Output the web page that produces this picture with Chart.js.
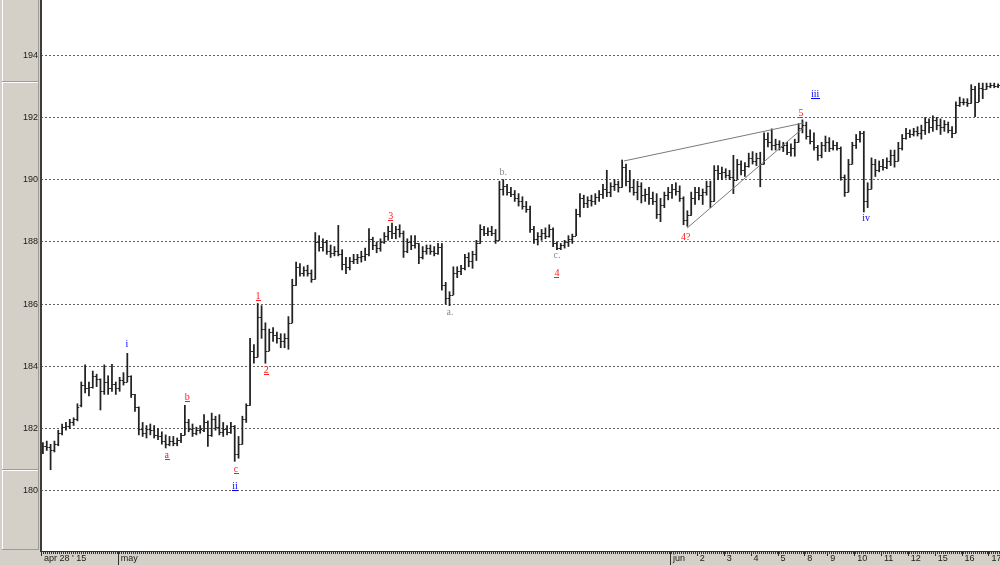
<!DOCTYPE html>
<html>
<head>
<meta charset="utf-8">
<script src="https://cdn.jsdelivr.net/npm/chart.js@4.4.0/dist/chart.umd.min.js"></script>
<style>
  html, body { margin: 0; padding: 0; background: #d4d0c8; }
  canvas { display: block; }
</style>
</head>
<body>
<canvas id="myChart" width="1000" height="565"></canvas>
<script>
// hourly OHLC bars
const opens = [
  181.3,181.45,181.4,181.3,181.5,181.85,182.05,182.1,182.2,182.3,
  182.75,183.4,183.3,183.35,183.7,183.6,183.2,183.5,183.3,183.45,
  183.3,183.55,183.5,183.7,183.1,182.7,182.0,181.85,182.0,181.95,
  181.8,181.75,181.6,181.5,181.6,181.55,181.65,181.8,182.2,182.0,
  181.85,181.95,181.95,182.2,181.8,182.3,182.05,181.9,182.0,181.9,
  182.1,181.2,181.5,182.3,182.75,184.5,184.3,185.6,185.2,184.5,
  185.1,185.0,184.9,184.8,184.9,185.4,186.6,187.2,187.0,187.1,
  187.0,186.8,188.0,187.85,188.0,187.7,187.65,187.7,187.6,187.3,
  187.2,187.4,187.45,187.5,187.55,187.6,188.1,187.9,187.8,188.0,
  188.2,188.35,188.3,188.4,188.3,187.7,188.0,187.9,187.95,187.5,
  187.7,187.8,187.7,187.65,187.85,186.6,186.2,186.3,187.0,187.05,
  187.15,187.5,187.4,187.6,187.95,188.4,188.3,188.35,188.3,188.05,
  189.7,189.8,189.6,189.55,189.4,189.3,189.15,189.05,188.4,188.1,
  188.2,188.3,188.2,188.4,187.95,187.8,187.9,188.0,188.1,188.2,
  188.9,189.4,189.25,189.35,189.3,189.45,189.55,189.7,189.6,189.8,
  189.85,189.75,190.4,189.95,189.75,189.6,189.8,189.5,189.55,189.4,
  189.3,188.9,189.2,189.5,189.6,189.7,189.65,189.4,188.7,188.85,
  189.4,189.6,189.5,189.6,189.8,189.3,190.3,190.2,190.25,190.15,
  190.1,190.0,190.5,190.3,190.45,190.7,190.6,190.7,190.5,191.3,
  191.2,191.1,191.15,191.05,191.1,190.9,191.0,191.2,191.65,191.75,
  191.4,191.25,191.05,190.8,191.1,191.2,191.0,191.1,191.0,190.1,
  189.6,190.5,191.1,191.3,191.5,189.3,189.7,190.5,190.3,190.45,
  190.4,190.6,190.8,190.6,191.0,191.35,191.5,191.45,191.55,191.5,
  191.6,191.85,191.7,191.9,191.75,191.7,191.8,191.6,191.5,192.4,
  192.5,192.5,192.45,192.9,192.5,192.95,192.9,193.0,193.05,193.0
];
const highs = [
  181.55,181.6,181.5,181.6,181.95,182.15,182.2,182.3,182.35,182.8,
  183.5,184.05,183.5,183.85,183.75,183.6,184.05,183.7,184.07,183.5,
  183.65,183.8,184.42,183.7,183.1,182.7,182.2,182.1,182.15,182.1,
  182.0,181.9,181.8,181.75,181.75,181.7,181.85,182.75,182.3,182.15,
  182.05,182.1,182.45,182.25,182.5,182.4,182.45,182.2,182.1,182.2,
  182.1,181.75,182.4,182.8,184.9,184.7,186.02,185.95,185.4,185.2,
  185.25,185.1,185.05,185.05,185.6,186.8,187.35,187.3,187.2,187.25,
  187.1,188.3,188.2,188.1,188.05,187.9,187.85,188.53,187.75,187.5,
  187.5,187.6,187.6,187.7,187.8,188.43,188.15,188.0,188.1,188.3,
  188.5,188.6,188.5,188.55,188.35,188.1,188.2,188.2,187.95,187.85,
  187.9,187.9,187.85,187.95,187.95,186.7,186.4,187.2,187.2,187.25,
  187.6,187.65,187.7,188.05,188.55,188.5,188.45,188.5,188.4,189.95,
  190.0,189.85,189.75,189.65,189.55,189.45,189.3,189.15,188.5,188.3,
  188.4,188.45,188.55,188.45,188.0,187.95,188.05,188.2,188.25,189.05,
  189.55,189.5,189.45,189.5,189.55,189.65,189.85,190.3,189.9,190.0,
  189.95,190.63,190.5,190.3,190.0,189.95,189.9,189.7,189.75,189.6,
  189.55,189.4,189.6,189.75,189.85,189.9,189.8,189.45,189.0,189.6,
  189.75,189.75,189.7,189.95,189.95,190.45,190.45,190.4,190.35,190.3,
  190.78,190.65,190.6,190.55,190.85,190.9,190.85,190.88,191.5,191.5,
  191.63,191.3,191.25,191.2,191.2,191.15,191.3,191.8,191.92,191.85,
  191.6,191.5,191.1,191.2,191.4,191.35,191.25,191.2,191.05,190.15,
  190.65,191.2,191.45,191.55,191.55,189.9,190.7,190.65,190.6,190.65,
  190.7,190.95,190.95,191.2,191.45,191.65,191.6,191.65,191.7,191.75,
  192.0,191.95,192.05,192.0,191.95,191.9,191.85,191.7,192.5,192.65,
  192.6,192.6,193.05,193.0,193.1,193.1,193.1,193.1,193.1,193.08
];
const lows = [
  181.2,181.3,180.68,181.25,181.45,181.8,181.95,182.0,182.1,182.25,
  182.7,183.15,183.05,183.3,183.35,182.6,183.1,183.1,183.2,183.1,
  183.2,183.4,183.5,183.0,182.55,181.8,181.75,181.7,181.8,181.7,
  181.65,181.5,181.38,181.45,181.45,181.45,181.55,181.8,181.9,181.75,
  181.8,181.85,181.9,181.43,181.75,181.95,181.8,181.75,181.8,181.85,
  180.95,181.05,181.5,182.2,182.75,184.1,184.3,184.9,184.1,184.5,
  184.8,184.75,184.6,184.6,184.55,185.4,186.6,186.9,186.9,186.9,
  186.7,186.8,187.7,187.7,187.6,187.5,187.55,187.55,187.1,186.98,
  187.1,187.3,187.3,187.35,187.4,187.55,187.75,187.65,187.7,187.95,
  188.05,188.1,188.1,188.15,187.5,187.65,187.75,187.8,187.3,187.45,
  187.6,187.6,187.55,187.6,186.45,186.0,185.95,186.3,186.85,186.95,
  187.1,187.2,187.15,187.4,187.95,188.2,188.2,188.2,187.95,188.05,
  189.5,189.5,189.45,189.3,189.15,189.05,188.95,188.3,187.95,187.9,
  188.05,188.1,188.15,187.85,187.75,187.75,187.8,187.85,187.95,188.2,
  188.8,189.1,189.1,189.15,189.2,189.3,189.4,189.45,189.45,189.65,
  189.6,189.75,189.8,189.6,189.5,189.35,189.25,189.3,189.2,189.2,
  188.75,188.65,189.1,189.35,189.4,189.5,189.3,188.55,188.5,188.85,
  189.2,189.35,189.2,189.5,189.1,189.3,190.0,190.0,190.05,190.0,
  189.55,190.0,190.15,190.1,190.4,190.5,190.45,189.77,190.5,191.05,
  190.95,190.95,190.95,190.9,190.8,190.75,190.75,191.2,191.5,191.3,
  191.15,190.95,190.62,190.7,190.9,190.9,190.95,190.95,189.98,189.46,
  189.6,190.5,191.0,191.2,188.96,189.1,189.7,190.1,190.25,190.3,
  190.35,190.45,190.4,190.6,190.95,191.3,191.35,191.4,191.4,191.3,
  191.45,191.5,191.55,191.6,191.45,191.55,191.5,191.35,191.5,192.35,
  192.4,192.35,192.45,192.02,192.5,192.6,192.9,192.95,192.95,192.95
];
const closes = [
  181.45,181.4,181.3,181.5,181.85,182.05,182.1,182.2,182.3,182.7,
  183.4,183.3,183.35,183.7,183.6,183.2,183.5,183.3,183.45,183.3,
  183.55,183.5,183.7,183.1,182.7,182.0,181.85,182.0,181.95,181.8,
  181.75,181.6,181.5,181.6,181.55,181.65,181.8,182.2,182.0,181.85,
  181.95,182.0,182.2,181.8,182.3,182.05,181.9,182.0,181.9,182.1,
  181.2,181.5,182.3,182.75,184.5,184.3,185.6,185.2,184.5,185.1,
  185.0,184.9,184.8,184.9,185.4,186.6,187.2,187.0,187.1,187.0,
  186.8,188.0,187.85,188.0,187.7,187.65,187.7,187.6,187.3,187.2,
  187.4,187.45,187.5,187.55,187.6,188.1,187.9,187.8,188.0,188.2,
  188.35,188.3,188.4,188.3,187.7,188.0,187.9,187.95,187.5,187.7,
  187.8,187.7,187.65,187.85,186.6,186.2,186.3,187.0,187.05,187.15,
  187.5,187.4,187.6,187.95,188.4,188.3,188.35,188.3,188.05,189.7,
  189.8,189.6,189.55,189.4,189.3,189.15,189.05,188.4,188.1,188.2,
  188.3,188.2,188.4,187.95,187.8,187.9,188.0,188.1,188.2,188.9,
  189.4,189.25,189.35,189.3,189.45,189.55,189.7,189.6,189.8,189.85,
  189.75,190.4,189.95,189.75,189.6,189.8,189.5,189.55,189.4,189.3,
  188.9,189.2,189.5,189.6,189.7,189.65,189.4,188.7,188.85,189.4,
  189.6,189.5,189.6,189.8,189.3,190.3,190.2,190.25,190.15,190.1,
  190.0,190.5,190.3,190.45,190.7,190.6,190.7,190.5,191.3,191.2,
  191.1,191.15,191.05,191.1,190.9,191.0,191.2,191.65,191.75,191.4,
  191.25,191.05,190.8,191.1,191.2,191.0,191.1,191.0,190.1,189.6,
  190.5,191.1,191.3,191.5,189.3,189.7,190.5,190.3,190.45,190.4,
  190.6,190.8,190.6,191.0,191.35,191.5,191.45,191.55,191.5,191.6,
  191.85,191.7,191.9,191.75,191.7,191.8,191.6,191.5,192.4,192.5,
  192.5,192.45,192.9,192.5,192.95,192.9,193.0,193.05,193.0,193.05
];

// x axis: bar index where each day starts
const dayStarts = [0, 20, 164, 171, 178, 185, 192, 199, 205, 212, 219, 226, 233, 240, 247];
const dayLabels = ["apr 28 ' 15", "may", "jun", "2", "3", "4", "5", "8", "9", "10", "11", "12", "15", "16", "17"];
const monthStarts = [20, 164];

// wave labels: text, bar index, price
const noteText  = ["i", "a", "b", "c", "ii", "1", "2", "3", "a.", "b.", "c.", "4", "4?", "5", "iii", "iv"];
const noteBar   = [21.9, 32.3, 37.6, 50.3, 50.1, 56.1, 58.2, 90.7, 106.1, 120.0, 134.0, 134.0, 167.6, 197.6, 201.3, 214.6];
const notePrice = [184.72, 181.15, 183.02, 180.7, 180.16, 186.26, 183.88, 188.83, 185.75, 190.24, 187.58, 187.0, 188.15, 192.14, 192.75, 188.77];
const noteColor = ["#0000ff", "#ff1a1a", "#ff1a1a", "#ff1a1a", "#0000ff", "#ff1a1a", "#ff1a1a", "#ff1a1a", "#8c8c8c", "#8c8c8c", "#8c8c8c", "#ff1a1a", "#ff1a1a", "#ff1a1a", "#0000ff", "#0000ff"];
const noteUnder = [false, true, true, true, true, true, true, true, false, false, false, true, false, true, true, false];

// wedge lines
const lineFromBar = [151.5, 167.9];
const lineFromPrice = [190.6, 188.44];
const lineToBar = [198.3, 198.1];
const lineToPrice = [191.82, 191.65];

const barColor = '#222222';

const labels = opens.map(() => '');
dayStarts.forEach((idx, k) => { labels[idx] = dayLabels[k]; });

const frame = {
  id: 'frame',
  beforeDraw(chart) {
    const { ctx, chartArea: a, width, height } = chart;
    ctx.save();
    ctx.fillStyle = '#d4d0c8';
    ctx.fillRect(0, 0, width, height);
    ctx.fillStyle = '#ffffff';
    ctx.fillRect(a.left, a.top, a.right - a.left, a.bottom - a.top);
    // bevelled boxes in the price panel
    const boxes = [[-2, 81], [82, 469], [470, 549]];
    boxes.forEach(b => {
      ctx.fillStyle = '#ffffff';
      ctx.fillRect(2, b[0], 36, 1);
      ctx.fillRect(2, b[0], 1, b[1] - b[0]);
      ctx.fillStyle = '#a09c94';
      ctx.fillRect(2, b[1], 37, 1);
      ctx.fillRect(38, b[0], 1, b[1] - b[0]);
    });
    ctx.restore();
  }
};

const marks = {
  id: 'marks',
  afterDatasetsDraw(chart) {
    const { ctx, scales: { x, y } } = chart;
    ctx.save();
    // open / close ticks
    ctx.strokeStyle = barColor;
    ctx.lineWidth = 1;
    ctx.beginPath();
    for (let i = 0; i < opens.length; i++) {
      const px = x.getPixelForValue(i);
      const yo = Math.round(y.getPixelForValue(opens[i])) + 0.5;
      const yc = Math.round(y.getPixelForValue(closes[i])) + 0.5;
      ctx.moveTo(px - 1.8, yo); ctx.lineTo(px, yo);
      ctx.moveTo(px, yc); ctx.lineTo(px + 1.8, yc);
    }
    ctx.stroke();

    ctx.strokeStyle = '#7a7a7a';
    ctx.beginPath();
    for (let k = 0; k < lineFromBar.length; k++) {
      ctx.moveTo(x.getPixelForValue(lineFromBar[k]), y.getPixelForValue(lineFromPrice[k]));
      ctx.lineTo(x.getPixelForValue(lineToBar[k]), y.getPixelForValue(lineToPrice[k]));
    }
    ctx.stroke();

    ctx.font = '10px "Liberation Serif"';
    ctx.textAlign = 'center';
    ctx.textBaseline = 'middle';
    noteText.forEach((t, k) => {
      const px = x.getPixelForValue(noteBar[k]);
      const py = y.getPixelForValue(notePrice[k]);
      ctx.fillStyle = noteColor[k];
      ctx.fillText(t, px, py);
      if (noteUnder[k]) {
        const w = ctx.measureText(t).width;
        ctx.fillRect(Math.round(px - w / 2), Math.round(py + 4), Math.ceil(w), 1);
      }
    });
    ctx.restore();
  },
  afterDraw(chart) {
    const { ctx, chartArea: a, scales: { x } } = chart;
    const step = (a.right - a.left) / opens.length;
    ctx.save();
    // plot frame
    ctx.fillStyle = '#3c3c3c';
    ctx.fillRect(a.left - 1, 0, 2, a.bottom + 1);
    // time ruler
    ctx.fillStyle = '#303030';
    ctx.fillRect(a.left, a.bottom, a.right - a.left, 1);
    for (let px = a.left; px < a.right; px += 2) {
      ctx.fillRect(px, a.bottom + 1, 1, 2);
    }
    dayStarts.forEach(idx => {
      const px = Math.round(x.getPixelForValue(idx) - step / 2);
      ctx.fillRect(px, a.bottom, 1, monthStarts.includes(idx) ? 14 : 5);
    });
    ctx.restore();
  }
};

const ctx = document.getElementById('myChart').getContext('2d');
const myChart = new Chart(ctx, {
  type: 'bar',
  data: {
    labels: labels,
    datasets: [{
      data: lows.map((l, i) => [l, highs[i]]),
      backgroundColor: barColor,
      borderWidth: 0,
      barThickness: 1.1
    }]
  },
  options: {
    responsive: false,
    animation: false,
    layout: { padding: 0 },
    plugins: { legend: { display: false }, tooltip: { enabled: false } },
    scales: {
      x: {
        grid: { display: false, drawTicks: false },
        border: { display: false },
        ticks: {
          autoSkip: false,
          maxRotation: 0,
          align: 'start',
          padding: 2,
          labelOffset: 1,
          color: '#1a1a1a',
          font: { family: 'Liberation Sans', size: 9 }
        },
        afterFit(s) { s.height = 14; s.paddingLeft = 0; s.paddingRight = 0; }
      },
      y: {
        min: 178.07,
        max: 195.77,
        grid: { color: '#606060', drawTicks: false },
        border: { display: false, dash: [2, 2] },
        ticks: {
          stepSize: 2,
          includeBounds: false,
          padding: 3,
          color: '#1a1a1a',
          font: { family: 'Liberation Sans', size: 9 }
        },
        afterFit(s) { s.width = 41; s.paddingTop = 0; s.paddingBottom = 0; }
      }
    }
  },
  plugins: [frame, marks]
});
</script>
</body>
</html>
